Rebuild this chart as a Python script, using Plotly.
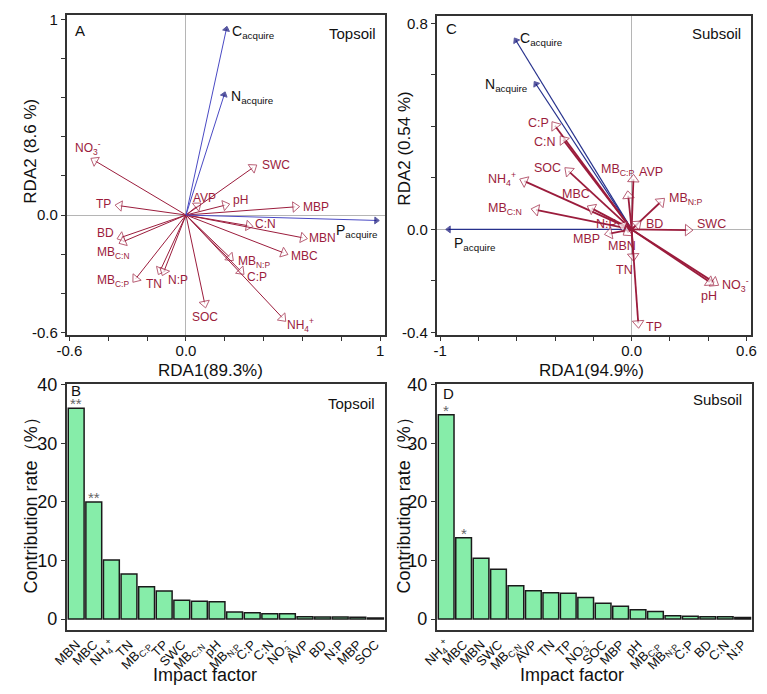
import plotly.graph_objects as go

# ---------------- DATA ----------------
# Panel A: Topsoil RDA biplot (explanatory variables, red)
a_vars = ["NO<sub>3</sub><sup>-</sup>", "TP", "BD", "MB<sub>C:N</sub>", "MB<sub>C:P</sub>", "TN", "N:P",
          "AVP", "pH", "SWC", "MBP", "C:N", "MBN", "MBC", "MB<sub>N:P</sub>", "C:P",
          "NH<sub>4</sub><sup>+</sup>", "SOC"]
a_x = [-0.485, -0.36, -0.35, -0.34, -0.27, -0.14, -0.12, 0.073, 0.22, 0.36, 0.58, 0.34, 0.62, 0.52, 0.24, 0.295, 0.51, 0.10]
a_y = [0.287, 0.05, -0.12, -0.143, -0.34, -0.30, -0.305, 0.058, 0.055, 0.253, 0.043, -0.058, -0.12, -0.20, -0.23, -0.30, -0.54, -0.47]
# Panel A response variables (blue)
a_resp = ["C<sub>acquire</sub>", "N<sub>acquire</sub>", "P<sub>acquire</sub>"]
a_resp_x = [0.21, 0.20, 0.99]
a_resp_y = [0.96, 0.625, -0.028]

# Panel C: Subsoil RDA biplot
c_vars = ["C:P", "C:N", "SOC", "NH<sub>4</sub><sup>+</sup>", "MBC", "MB<sub>C:N</sub>", "N:P", "MBP", "MBN",
          "MB<sub>C:P</sub>", "AVP", "MB<sub>N:P</sub>", "BD", "SWC", "NO<sub>3</sub><sup>-</sup>", "pH", "TN", "TP"]
c_x = [-0.413, -0.37, -0.345, -0.58, -0.227, -0.52, -0.066, -0.137, -0.04, -0.02, 0.01, 0.168, 0.045, 0.315, 0.45, 0.425, 0.01, 0.036]
c_y = [0.415, 0.36, 0.237, 0.194, 0.089, 0.079, 0.019, -0.019, -0.02, 0.146, 0.21, 0.118, 0.03, -0.003, -0.215, -0.213, -0.12, -0.38]
c_resp = ["C<sub>acquire</sub>", "N<sub>acquire</sub>", "P<sub>acquire</sub>"]
c_resp_x = [-0.61, -0.506, -0.966]
c_resp_y = [0.74, 0.571, 0.0]

# Axis tick values / labels
a_xticks = [-0.6, -0.4, -0.2, 0.0, 0.2, 0.4, 0.6, 0.8, 1.0]
a_xticktext = ["-0.6", "", "", "0.0", "", "", "", "", "1"]
a_yticks = [-0.6, -0.4, -0.2, 0.0, 0.2, 0.4, 0.6, 0.8, 1.0]
a_yticktext = ["-0.6", "", "", "0.0", "", "", "", "", "1"]
c_xticks = [-1.0, -0.8, -0.6, -0.4, -0.2, 0.0, 0.2, 0.4, 0.6]
c_xticktext = ["-1", "", "", "", "", "0.0", "", "", "0.6"]
c_yticks = [-0.4, -0.2, 0.0, 0.2, 0.4, 0.6, 0.8]
c_yticktext = ["-0.4", "", "0.0", "", "", "", "0.8"]

# Panel B: Topsoil contribution rates
b_factors = ["MBN", "MBC", "NH<sub>4</sub><sup>+</sup>", "TN", "MB<sub>C:P</sub>", "TP", "SWC", "MB<sub>C:N</sub>", "pH",
             "MB<sub>N:P</sub>", "C:P", "C:N", "NO<sub>3</sub><sup>-</sup>", "AVP", "BD", "N:P", "MBP", "SOC"]
b_values = [36.0, 20.0, 10.1, 7.7, 5.5, 4.8, 3.2, 3.05, 2.95, 1.2, 1.1, 0.9, 0.9, 0.4, 0.35, 0.35, 0.3, 0.2]
b_sig = ["**", "**", "", "", "", "", "", "", "", "", "", "", "", "", "", "", "", ""]

# Panel D: Subsoil contribution rates
d_factors = ["NH<sub>4</sub><sup>+</sup>", "MBC", "MBN", "SWC", "MB<sub>C:N</sub>", "AVP", "TN", "TP",
             "NO<sub>3</sub><sup>-</sup>", "SOC", "MBP", "pH", "MB<sub>C:P</sub>", "MB<sub>N:P</sub>", "C:P", "BD", "C:N", "N:P"]
d_values = [34.9, 13.9, 10.4, 8.5, 5.7, 4.85, 4.5, 4.4, 3.7, 2.7, 2.2, 1.6, 1.3, 0.55, 0.5, 0.4, 0.4, 0.28]
d_sig = ["*", "*", "", "", "", "", "", "", "", "", "", "", "", "", "", "", "", ""]
bar_ticks = [0, 10, 20, 30, 40]

# ---------------- STYLE ----------------
W, H = 767, 694
FONT = "Liberation Sans, Arial, sans-serif"
RED = "#9b1c3c"
BLUE_A = "#4a4ac4"
BLUE_C = "#26318c"
NAVY = "#14147a"
AXC = "#333333"
BAR = "#86eda9"

# label placement (xanchor, xshift px, down px) for each arrow label
a_lab = [("center", -4, -11), ("right", -3, -1), ("right", -2, -5), ("center", -7, 10), ("right", -3, -1),
         ("center", -5, 10), ("left", 3, 5), ("center", 4, -6), ("left", 2, -4), ("left", 4, -1),
         ("left", 2, 0), ("left", 1, -2), ("left", 1, 0), ("left", 2, 2), ("left", 3, 2),
         ("left", 2, 3), ("left", 0, 4), ("center", 0, 10)]
a_resp_lab = [("left", 3, 5), ("left", 4, 4), ("right", 2, 11)]
c_lab = [("right", -2, 0), ("right", -3, 5), ("right", -3, 0), ("right", -3, 0), ("center", -12, -12),
         ("right", -8, 0), ("right", 0, -1), ("right", -3, 5), ("center", -2, 11), ("center", -10, -22),
         ("left", 3, -3), ("left", 3, 0), ("left", 4, 2), ("left", 3, -6), ("left", 2, 0),
         ("center", -4, 12), ("right", 1, 10), ("left", 5, 0)]
c_resp_lab = [("left", 3, 0), ("right", -5, 3), ("left", 5, 15)]

fig = go.Figure()
annotations = []


def add_arrows(xs, ys, names, labs, xa, ya, lcolor, lw, fill, mcolor, msize, tcolor, tsize):
    for x, y, n, (anc, sx, sd) in zip(xs, ys, names, labs):
        fig.add_trace(go.Scatter(
            x=[0, x], y=[0, y], mode="lines+markers", xaxis=xa, yaxis=ya,
            line=dict(color=lcolor, width=lw),
            marker=dict(symbol="triangle-up", size=[0, msize], color=fill, angleref="previous",
                        standoff=msize / 2 - 1, line=dict(color=mcolor, width=1)),
            hoverinfo="skip", showlegend=False, cliponaxis=False))
        annotations.append(dict(x=x, y=y, xref=xa, yref=ya, text=n, showarrow=False,
                                xanchor=anc, yanchor="middle", xshift=sx, yshift=-sd,
                                font=dict(family=FONT, size=tsize, color=tcolor)))


add_arrows(a_x, a_y, a_vars, a_lab, "x", "y", RED, 1, "white", RED, 9, RED, 12)
add_arrows(a_resp_x, a_resp_y, a_resp, a_resp_lab, "x", "y", BLUE_A, 1, NAVY, NAVY, 6, "#111111", 14)
add_arrows(c_resp_x, c_resp_y, c_resp, c_resp_lab, "x2", "y2", BLUE_C, 1.2, NAVY, NAVY, 6, "#111111", 14)
add_arrows(c_x, c_y, c_vars, c_lab, "x2", "y2", RED, 1.8, "white", RED, 10, RED, 12.5)

fig.add_trace(go.Bar(x=b_factors, y=b_values, xaxis="x3", yaxis="y3",
                     marker=dict(color=BAR, line=dict(color="#1a1a1a", width=1.5)),
                     hoverinfo="skip", showlegend=False))
fig.add_trace(go.Bar(x=d_factors, y=d_values, xaxis="x4", yaxis="y4",
                     marker=dict(color=BAR, line=dict(color="#1a1a1a", width=1.5)),
                     hoverinfo="skip", showlegend=False))

for f, v, s in zip(b_factors, b_values, b_sig):
    if s:
        annotations.append(dict(x=f, y=v, xref="x3", yref="y3", text=s, showarrow=False,
                                yanchor="bottom", yshift=-6,
                                font=dict(family=FONT, size=15, color="#666666")))
for f, v, s in zip(d_factors, d_values, d_sig):
    if s:
        annotations.append(dict(x=f, y=v, xref="x4", yref="y4", text=s, showarrow=False,
                                yanchor="bottom", yshift=-6,
                                font=dict(family=FONT, size=15, color="#666666")))


def paper_text(px, py, text, size, anchor="center", angle=0, color="#111111"):
    annotations.append(dict(x=px / W, y=1 - py / H, xref="paper", yref="paper", text=text,
                            showarrow=False, xanchor=anchor, yanchor="middle", textangle=angle,
                            font=dict(family=FONT, size=size, color=color)))


# panel letters and soil layer labels
paper_text(59, 22, "A", 15, "left")
paper_text(373, 25, "Topsoil", 15, "right")
paper_text(441, 20, "C", 15, "left")
paper_text(748, 25, "Subsoil", 15, "right")
paper_text(55, 389, "B", 15, "left")
paper_text(372, 403, "Topsoil", 15, "right")
paper_text(438, 392, "D", 15, "left")
paper_text(749, 399, "Subsoil", 15, "right")
# axis titles
paper_text(14, 145, "RDA2 (8.6 %)", 17, angle=-90)
paper_text(200, 369, "RDA1(89.3%)", 17)
paper_text(400, 143, "RDA2 (0.54 %)", 17, angle=-90)
paper_text(593, 369, "RDA1(94.9%)", 17)
paper_text(15, 502, "Contribution rate（%）", 18, angle=-90)
paper_text(399, 502, "Contribution rate（%）", 18, angle=-90)
paper_text(195, 680, "Impact factor", 18)
paper_text(572, 680, "Impact factor", 18)

common = dict(showline=True, mirror=True, linecolor=AXC, linewidth=1.5, showgrid=False,
              ticks="outside", ticklen=4, tickcolor=AXC, tickwidth=1)

rda_font = dict(family=FONT, size=15, color="#111111")
fig.update_layout(
    width=W, height=H, margin=dict(l=0, r=0, t=0, b=0),
    paper_bgcolor="white", plot_bgcolor="white",
    font=dict(family=FONT), bargap=0.1,
    xaxis=dict(domain=[52 / W, 380 / W], range=[-0.615, 1.025], anchor="y",
               tickvals=a_xticks, ticktext=a_xticktext, tickfont=rda_font, ticklabelstandoff=-3,
               zeroline=True, zerolinecolor="#b5b5b5", zerolinewidth=1, **common),
    yaxis=dict(domain=[1 - 333 / H, 1 - 6 / H], range=[-0.615, 1.0235], anchor="x",
               tickvals=a_yticks, ticktext=a_yticktext, tickfont=rda_font,
               zeroline=True, zerolinecolor="#b5b5b5", zerolinewidth=1, **common),
    xaxis2=dict(domain=[433 / W, 757 / W], range=[-1.019, 0.625], anchor="y2",
                tickvals=c_xticks, ticktext=c_xticktext, tickfont=rda_font, ticklabelstandoff=-3,
                zeroline=True, zerolinecolor="#b5b5b5", zerolinewidth=1, **common),
    yaxis2=dict(domain=[1 - 333 / H, 1 - 7 / H], range=[-0.411, 0.829], anchor="x2",
                tickvals=c_yticks, ticktext=c_yticktext, tickfont=rda_font,
                zeroline=True, zerolinecolor="#b5b5b5", zerolinewidth=1, **common),
    xaxis3=dict(domain=[52 / W, 380 / W], range=[-0.55, 17.55], anchor="y3", type="category",
                showline=True, mirror=True, linecolor=AXC, linewidth=1.5, showgrid=False,
                ticks="", tickangle=-45, tickfont=dict(family=FONT, size=13, color="#111111"),
                zeroline=False),
    yaxis3=dict(domain=[1 - 634 / H, 1 - 383 / H], range=[-1.9, 40.1], anchor="x3",
                tickvals=bar_ticks, tickfont=dict(family=FONT, size=18, color="#111111"),
                zeroline=False, **common),
    xaxis4=dict(domain=[433 / W, 758 / W], range=[-0.55, 17.55], anchor="y4", type="category",
                showline=True, mirror=True, linecolor=AXC, linewidth=1.5, showgrid=False,
                ticks="", tickangle=-45, tickfont=dict(family=FONT, size=13, color="#111111"),
                zeroline=False),
    yaxis4=dict(domain=[1 - 634 / H, 1 - 383 / H], range=[-1.9, 40.1], anchor="x4",
                tickvals=bar_ticks, tickfont=dict(family=FONT, size=18, color="#111111"),
                zeroline=False, **common),
    annotations=annotations,
)

fig.write_html("out.html")
